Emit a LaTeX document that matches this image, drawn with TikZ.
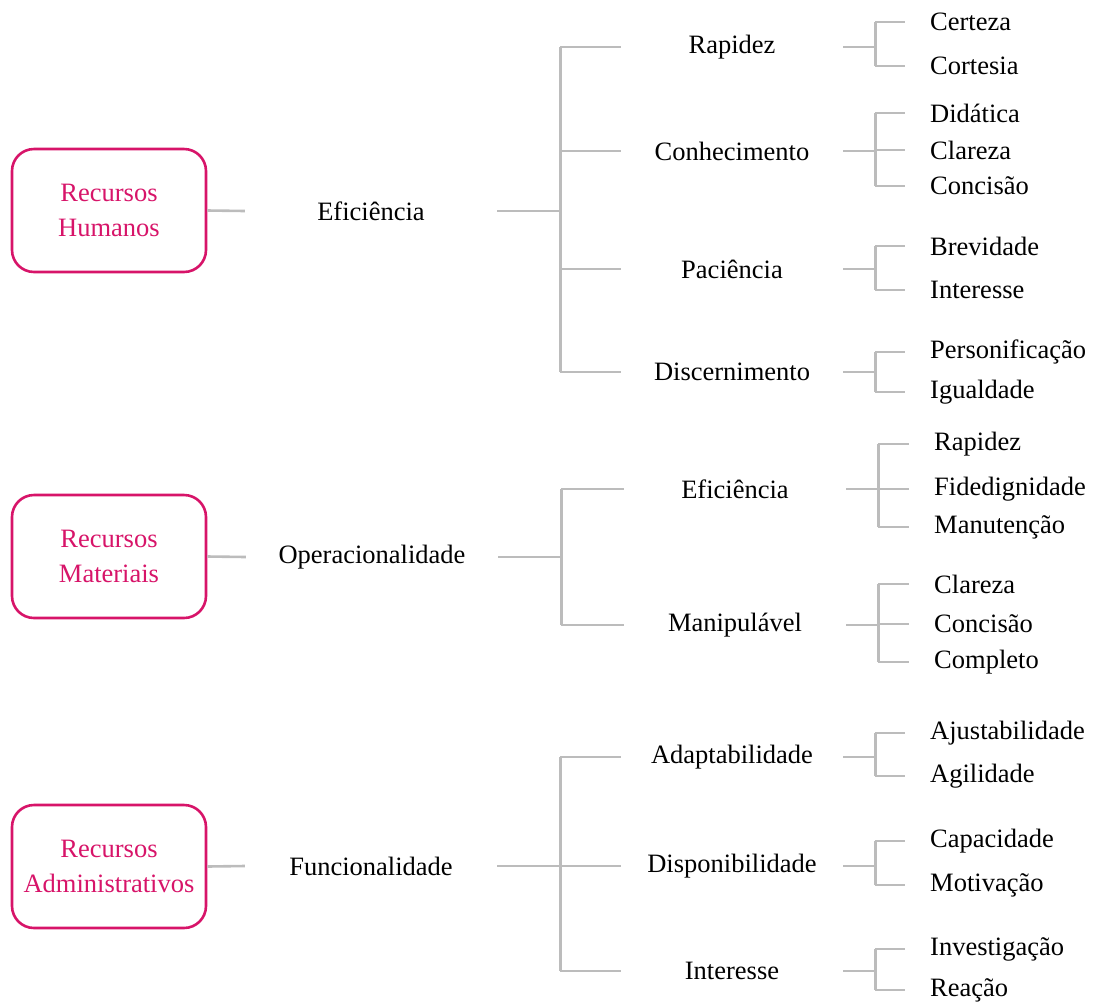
\documentclass[tikz,border=0pt]{standalone}
\usepackage{fontspec}
\setmainfont{Liberation Serif}
\definecolor{rootpink}{RGB}{215,20,105}
\definecolor{linkgrey}{RGB}{188,188,188}
\begin{document}
\begin{tikzpicture}[x=1pt,y=-1pt,
  every node/.style={font=\fontsize{26.5}{35}\selectfont},
  rootbox/.style={draw=rootpink,line width=2.6pt,rounded corners=22pt,text=rootpink,
    minimum width=194pt,minimum height=123pt,align=center,inner sep=0pt},
  mid/.style={minimum width=252pt,inner sep=0pt,anchor=center},
  sub/.style={minimum width=222pt,inner sep=0pt,anchor=center},
  leaf/.style={anchor=west,inner xsep=25pt,inner ysep=0pt},
  link/.style={draw=linkgrey,line width=2.6pt}]
\useasboundingbox (0,0) rectangle (1093,1005);

% ---------- Recursos Humanos ----------
\node[rootbox] (r1) at (109,210.5) {Recursos\\Humanos};
\node[mid] (m1) at (371,211) {Eficiência};
\node[sub] (s11) at (732,47) {Rapidez};
\node[sub] (s12) at (732,151) {Conhecimento};
\node[sub] (s13) at (732,269) {Paciência};
\node[sub] (s14) at (732,372) {Discernimento};
\node[leaf] (l111) at (905,22) {Certeza};
\node[leaf] (l112) at (905,66) {Cortesia};
\node[leaf] (l121) at (905,113) {Didática};
\node[leaf] (l122) at (905,150) {Clareza};
\node[leaf] (l123) at (905,186) {Concisão};
\node[leaf] (l131) at (905,246) {Brevidade};
\node[leaf] (l132) at (905,290) {Interesse};
\node[leaf] (l141) at (905,352) {Personificação};
\node[leaf] (l142) at (905,392) {Igualdade};

% ---------- Recursos Materiais ----------
\node[rootbox] (r2) at (109,556.5) {Recursos\\Materiais};
\node[mid] (m2) at (372,557) {Operacionalidade};
\node[sub] (s21) at (735,489) {Eficiência};
\node[sub] (s22) at (735,625) {Manipulável};
\node[leaf] (l211) at (909,444) {Rapidez};
\node[leaf] (l212) at (909,489) {Fidedignidade};
\node[leaf] (l213) at (909,527) {Manutenção};
\node[leaf] (l221) at (909,584) {Clareza};
\node[leaf] (l222) at (909,624) {Concisão};
\node[leaf] (l223) at (909,662) {Completo};

% ---------- Recursos Administrativos ----------
\node[rootbox] (r3) at (109,866.5) {Recursos\\Administrativos};
\node[mid] (m3) at (371,866) {Funcionalidade};
\node[sub] (s31) at (732,757) {Adaptabilidade};
\node[sub] (s32) at (732,866) {Disponibilidade};
\node[sub] (s33) at (732,971) {Interesse};
\node[leaf] (l311) at (905,733) {Ajustabilidade};
\node[leaf] (l312) at (905,776) {Agilidade};
\node[leaf] (l321) at (905,841) {Capacidade};
\node[leaf] (l322) at (905,885) {Motivação};
\node[leaf] (l331) at (905,949) {Investigação};
\node[leaf] (l332) at (905,990) {Reação};

% ---------- connectors ----------
\foreach \r/\m in {r1/m1,r2/m2,r3/m3}
  \draw[link] (\r.east) -- (\m.west);

% level 1 -> level 2 brackets
\draw[link] (m1.east) -- ++(63,0) coordinate (k1);
\draw[link] (k1 |- s11.west) -- (k1 |- s14.west);
\foreach \s in {s11,s12,s13,s14} \draw[link] (k1 |- \s.west) -- (\s.west);

\draw[link] (m2.east) -- ++(63,0) coordinate (k2);
\draw[link] (k2 |- s21.west) -- (k2 |- s22.west);
\foreach \s in {s21,s22} \draw[link] (k2 |- \s.west) -- (\s.west);

\draw[link] (m3.east) -- ++(63,0) coordinate (k3);
\draw[link] (k3 |- s31.west) -- (k3 |- s33.west);
\foreach \s in {s31,s32,s33} \draw[link] (k3 |- \s.west) -- (\s.west);

% level 2 -> leaves brackets
\foreach \s/\a/\b/\list in {
    s11/l111/l112/{l111,l112},
    s12/l121/l123/{l121,l122,l123},
    s13/l131/l132/{l131,l132},
    s14/l141/l142/{l141,l142},
    s21/l211/l213/{l211,l212,l213},
    s22/l221/l223/{l221,l222,l223},
    s31/l311/l312/{l311,l312},
    s32/l321/l322/{l321,l322},
    s33/l331/l332/{l331,l332}} {
  \draw[link] (\s.east) -- ++(32,0) coordinate (j\s);
  \draw[link] (j\s |- \a.west) -- (j\s |- \b.west);
  \foreach \l in \list \draw[link] (j\s |- \l.west) -- (\l.west);
}
\end{tikzpicture}
\end{document}
